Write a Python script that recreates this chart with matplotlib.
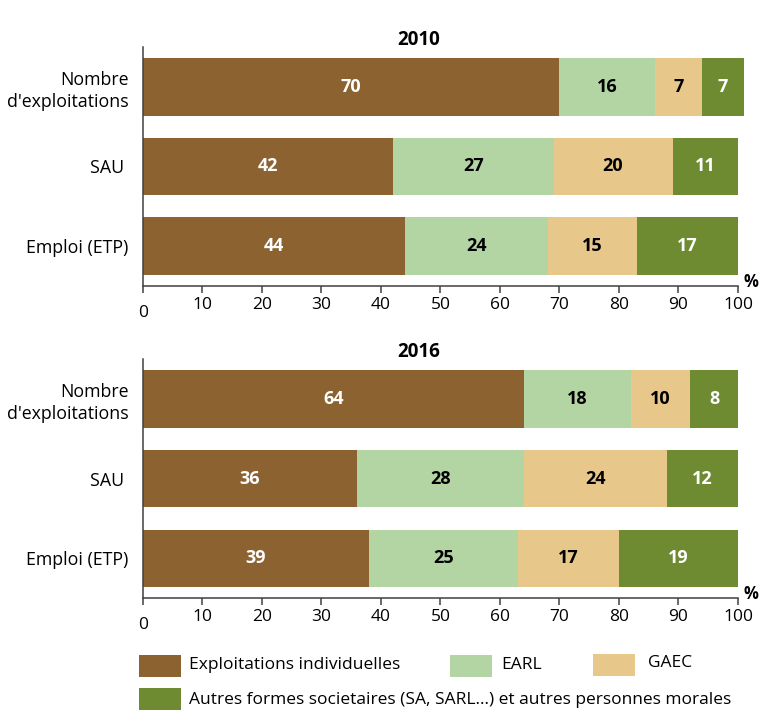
import numpy as np
import matplotlib
matplotlib.use("Agg")
import matplotlib.pyplot as plt
from matplotlib.patches import Rectangle

plt.rcParams['font.family'] = ['Open Sans', 'DejaVu Sans']

CATEGORIES = ["Nombre\nd'exploitations", "SAU ", "Emploi (ETP)"]
SERIES = ["Exploitations individuelles", "EARL", "GAEC",
          "Autres formes societaires (SA, SARL...) et autres personnes morales"]
COLORS = ["#8C6231", "#B3D5A4", "#E8C78B", "#6E8B32"]
TEXT_COLORS = ["white", "black", "black", "white"]

# bar widths (per category: indiv, EARL, GAEC, autres)
W_2010 = [[70, 16, 8, 7], [42, 27, 20, 11], [44, 24, 15, 17]]
W_2016 = [[64, 18, 10, 8], [36, 28, 24, 12], [38, 25, 17, 20]]
# printed labels
L_2010 = [[70, 16, 7, 7], [42, 27, 20, 11], [44, 24, 15, 17]]
L_2016 = [[64, 18, 10, 8], [36, 28, 24, 12], [39, 25, 17, 19]]

XTICKS = [0, 10, 20, 30, 40, 50, 60, 70, 80, 90, 100]


def draw_panel(ax, widths, labels, year):
    ypos = np.arange(len(CATEGORIES))
    left = np.zeros(len(CATEGORIES))
    for j in range(len(SERIES)):
        vals = np.array([w[j] for w in widths], dtype=float)
        ax.barh(ypos, vals, left=left, height=0.72, color=COLORS[j],
                edgecolor='none', clip_on=False)
        for i in range(len(CATEGORIES)):
            ax.text(left[i] + vals[i] / 2.0, ypos[i], str(labels[i][j]),
                    ha='center', va='center', fontsize=13,
                    fontweight='bold', color=TEXT_COLORS[j])
        left += vals

    ax.set_xlim(0, 100)
    ax.set_ylim(len(CATEGORIES) - 0.5, -0.5)
    ax.set_yticks(ypos)
    ax.set_yticklabels(CATEGORIES, fontsize=12.8, linespacing=1.3)
    ax.tick_params(axis='y', left=False, pad=7)

    ax.set_xticks(XTICKS)
    ax.set_xticklabels([''] + [str(t) for t in XTICKS[1:]], fontsize=12.5)
    ax.tick_params(axis='x', direction='out', length=5, width=1.1,
                   color='#404040', pad=3)
    ax.annotate('0', xy=(0, 0), xycoords=('data', 'axes fraction'),
                xytext=(0, -14), textcoords='offset points',
                ha='center', va='top', fontsize=12.5)
    ax.annotate('%', xy=(1, 0), xycoords='axes fraction',
                xytext=(4, 3), textcoords='offset points',
                ha='left', va='center', fontsize=12, fontweight='bold')

    for s in ['top', 'right']:
        ax.spines[s].set_visible(False)
    for s in ['left', 'bottom']:
        ax.spines[s].set_color('#404040')
        ax.spines[s].set_linewidth(1.1)

    ax.annotate(str(year), xy=(0.463, 1.0), xycoords='axes fraction',
                xytext=(0, 5), textcoords='offset points',
                ha='center', va='center', fontsize=13.5, fontweight='bold')


fig = plt.figure(figsize=(7.59, 7.10), dpi=100)
ax1 = fig.add_axes([0.1884, 0.5972, 0.7839, 0.3366])
ax2 = fig.add_axes([0.1884, 0.1577, 0.7839, 0.3366])

draw_panel(ax1, W_2010, L_2010, 2010)
draw_panel(ax2, W_2016, L_2016, 2016)

# legend (patch x, patch top y, text x, text centre y) in pixels
FW, FH = 759.0, 710.0
legend_items = [(139, 655, 189, 665), (450, 655, 501, 665),
                (593, 654, 648, 663), (139, 688, 189, 700)]
for j, (px, py, tx, ty) in enumerate(legend_items):
    fig.patches.append(Rectangle((px / FW, 1 - (py + 22) / FH), 42 / FW, 22 / FH,
                                 transform=fig.transFigure, facecolor=COLORS[j],
                                 edgecolor='none'))
    fig.text(tx / FW, 1 - ty / FH, SERIES[j], ha='left', va='center',
             fontsize=12.5)

fig.savefig("out.png", dpi=100)
plt.close()
